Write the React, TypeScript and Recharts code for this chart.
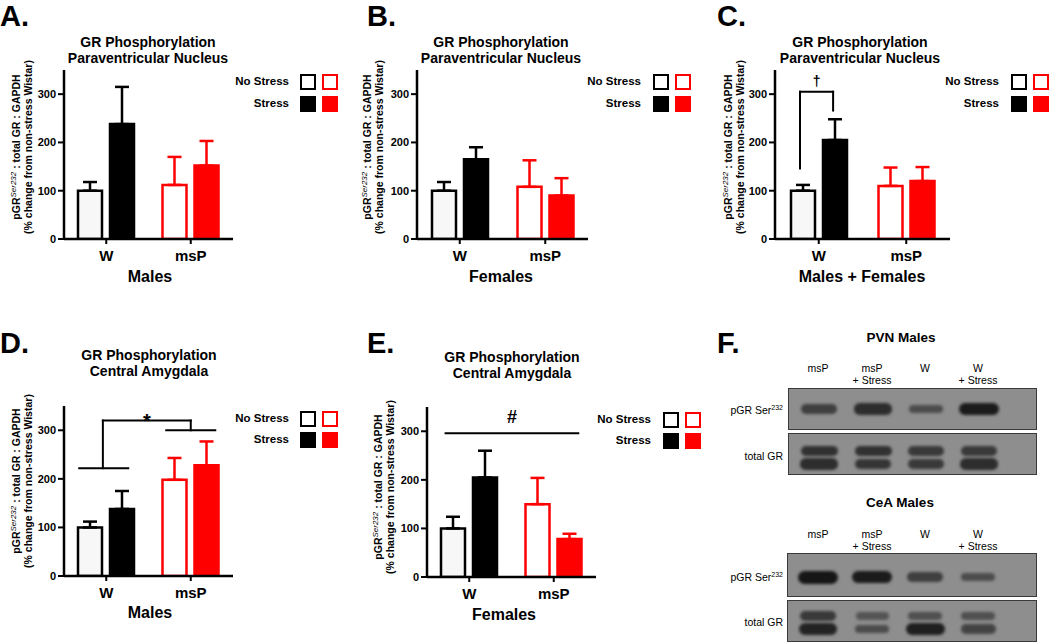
import { Bar, BarChart, Cell, ErrorBar, ReferenceLine, XAxis, YAxis } from 'recharts'

const GROUPS = ['W', 'msP']
const Y_TICKS = [0, 100, 200, 300]

// A: PVN males
const A_NO_STRESS = [100, 112]
const A_STRESS = [238, 152]
const A_NO_STRESS_SEM = [18, 58]
const A_STRESS_SEM = [77, 51]

// B: PVN females
const B_NO_STRESS = [100, 108]
const B_STRESS = [165, 90]
const B_NO_STRESS_SEM = [18, 55]
const B_STRESS_SEM = [25, 36]

// C: PVN males + females
const C_NO_STRESS = [100, 110]
const C_STRESS = [205, 120]
const C_NO_STRESS_SEM = [12, 38]
const C_STRESS_SEM = [43, 29]

// D: CeA males
const D_NO_STRESS = [100, 198]
const D_STRESS = [138, 228]
const D_NO_STRESS_SEM = [12, 45]
const D_STRESS_SEM = [37, 49]

// E: CeA females
const E_NO_STRESS = [100, 150]
const E_STRESS = [205, 78]
const E_NO_STRESS_SEM = [24, 54]
const E_STRESS_SEM = [55, 11]

// F: western blot lanes and band intensities (0..1)
const LANES = [['msP'], ['msP', '+ Stress'], ['W'], ['W', '+ Stress']]
const PVN_PGR = [0.55, 0.75, 0.4, 0.95]
const PVN_TOTAL_UPPER = [0.7, 0.7, 0.6, 0.6]
const PVN_TOTAL_LOWER = [0.75, 0.65, 0.6, 0.75]
const CEA_PGR = [1, 0.95, 0.55, 0.4]
const CEA_TOTAL_UPPER = [0.6, 0.3, 0.35, 0.35]
const CEA_TOTAL_LOWER = [0.85, 0.4, 0.9, 0.5]

const GROUP_COLORS = ['#000000', '#ff0000']
const NO_STRESS_FILL = ['#f7f7f7', '#ffffff']
const FONT = '"Liberation Sans", Arial, Helvetica, sans-serif'

// segment x is in fractions of the plot width (W spans 0..0.5, msP 0.5..1)
type Seg = { x1: number; y1: number; x2: number; y2: number; label?: string; labelSize?: number; labelOffset?: number }

function buildRows(ns: number[], s: number[], nsSem: number[], sSem: number[]) {
  return GROUPS.map((group, i) => ({
    group,
    noStress: ns[i],
    stress: s[i],
    nsErrBlack: i === 0 ? [0, nsSem[i]] : undefined,
    nsErrRed: i === 1 ? [0, nsSem[i]] : undefined,
    sErrBlack: i === 0 ? [0, sSem[i]] : undefined,
    sErrRed: i === 1 ? [0, sSem[i]] : undefined,
  }))
}

type PanelProps = {
  rows: ReturnType<typeof buildRows>
  axisX: number
  axisEnd: number
  plotTop: number
  axisY: number
  segments?: Seg[]
}

function BarPanel({ rows, axisX, axisEnd, plotTop, axisY, segments = [] }: PanelProps) {
  const left = axisX - 34
  const top = plotTop - 12
  const width = axisEnd - left + 4
  const height = axisY + 34 - top
  return (
    <div style={{ position: 'absolute', left, top }}>
      <BarChart
        width={width}
        height={height}
        data={rows}
        margin={{ top: 12, right: 4, left: 0, bottom: 0 }}
        barSize={24}
        barGap={8}
      >
        <XAxis
          dataKey="group"
          height={34}
          axisLine={{ stroke: '#000', strokeWidth: 2.5 }}
          tickLine={{ stroke: '#000', strokeWidth: 2 }}
          tickSize={5}
          tickMargin={6}
          tick={{ fill: '#000', fontSize: 15, fontWeight: 700 }}
        />
        <XAxis xAxisId="num" type="number" domain={[0, 1]} allowDataOverflow hide />
        <YAxis
          width={34}
          domain={[0, 350]}
          ticks={Y_TICKS}
          interval={0}
          allowDataOverflow
          axisLine={{ stroke: '#000', strokeWidth: 2.5 }}
          tickLine={{ stroke: '#000', strokeWidth: 2 }}
          tickSize={6}
          tickMargin={2}
          tick={{ fill: '#000', fontSize: 11, fontWeight: 700 }}
        />
        <Bar dataKey="noStress" strokeWidth={2.5} isAnimationActive={false}>
          {rows.map((r, i) => (
            <Cell key={`ns-${r.group}`} fill={NO_STRESS_FILL[i]} stroke={GROUP_COLORS[i]} />
          ))}
          <ErrorBar dataKey="nsErrBlack" width={7} strokeWidth={2.5} stroke={GROUP_COLORS[0]} isAnimationActive={false} />
          <ErrorBar dataKey="nsErrRed" width={7} strokeWidth={2.5} stroke={GROUP_COLORS[1]} isAnimationActive={false} />
        </Bar>
        <Bar dataKey="stress" strokeWidth={2.5} isAnimationActive={false}>
          {rows.map((r, i) => (
            <Cell key={`s-${r.group}`} fill={GROUP_COLORS[i]} stroke={GROUP_COLORS[i]} />
          ))}
          <ErrorBar dataKey="sErrBlack" width={7} strokeWidth={2.5} stroke={GROUP_COLORS[0]} isAnimationActive={false} />
          <ErrorBar dataKey="sErrRed" width={7} strokeWidth={2.5} stroke={GROUP_COLORS[1]} isAnimationActive={false} />
        </Bar>
        {segments.map((sg, i) => (
          <ReferenceLine
            key={`seg-${i}`}
            xAxisId="num"
            segment={[
              { x: sg.x1, y: sg.y1 },
              { x: sg.x2, y: sg.y2 },
            ]}
            stroke="#000"
            strokeWidth={2}
            strokeLinecap="square"
            ifOverflow="visible"
            label={
              sg.label
                ? {
                    value: sg.label,
                    position: 'top',
                    offset: sg.labelOffset ?? 4,
                    fill: '#000',
                    fontSize: sg.labelSize ?? 16,
                    fontWeight: 700,
                  }
                : undefined
            }
          />
        ))}
      </BarChart>
    </div>
  )
}

function Txt({ x, y, children, size = 14, weight = 700, align = 'center' }: any) {
  const tx = align === 'center' ? '-50%' : align === 'right' ? '-100%' : '0'
  return (
    <div
      style={{
        position: 'absolute',
        left: x,
        top: y,
        transform: `translate(${tx}, -50%)`,
        fontSize: size,
        fontWeight: weight,
        lineHeight: 1.15,
        whiteSpace: 'nowrap',
        textAlign: align,
      }}
    >
      {children}
    </div>
  )
}

function YLabel({ cx, cy }: { cx: number; cy: number }) {
  return (
    <div
      style={{
        position: 'absolute',
        left: cx,
        top: cy,
        width: 200,
        transform: 'translate(-50%, -50%) rotate(-90deg)',
        textAlign: 'center',
        fontSize: 10.5,
        fontWeight: 700,
        lineHeight: '12px',
        whiteSpace: 'nowrap',
      }}
    >
      <div>
        pGR<sup style={{ fontSize: 8, fontWeight: 400, fontStyle: 'italic', verticalAlign: '4px' }}>Ser232</sup> : total GR : GAPDH
      </div>
      <div>(% change from non-stress Wistar)</div>
    </div>
  )
}

function Legend({ textRight, boxX, y1, y2 }: { textRight: number; boxX: number; y1: number; y2: number }) {
  const box = (x: number, y: number, color: string, filled: boolean) => (
    <div
      style={{
        position: 'absolute',
        left: x,
        top: y - 8,
        width: 16,
        height: 16,
        boxSizing: 'border-box',
        border: `2.5px solid ${color}`,
        background: filled ? color : '#fff',
      }}
    />
  )
  return (
    <>
      <Txt x={textRight} y={y1} size={11.5} align="right">No Stress</Txt>
      <Txt x={textRight} y={y2} size={11.5} align="right">Stress</Txt>
      {box(boxX, y1, GROUP_COLORS[0], false)}
      {box(boxX + 22, y1, GROUP_COLORS[1], false)}
      {box(boxX, y2, GROUP_COLORS[0], true)}
      {box(boxX + 22, y2, GROUP_COLORS[1], true)}
    </>
  )
}

function Title({ cx, y, line2 }: { cx: number; y: number; line2: string }) {
  return (
    <>
      <Txt x={cx} y={y} size={14}>GR Phosphorylation</Txt>
      <Txt x={cx} y={y + 16} size={14}>{line2}</Txt>
    </>
  )
}

function PanelLetter({ x, y, letter }: { x: number; y: number; letter: string }) {
  return (
    <div style={{ position: 'absolute', left: x, top: y, fontSize: 29, fontWeight: 700, lineHeight: 1 }}>{letter}</div>
  )
}

const LANE_X = [30, 84, 137, 190]

function Blot({ left, top, width, height, bands }: { left: number; top: number; width: number; height: number; bands: { y: number; vals: number[] }[] }) {
  return (
    <div
      style={{
        position: 'absolute',
        left,
        top,
        width,
        height,
        boxSizing: 'border-box',
        background: '#8e8e8e',
        border: '1.5px solid #3a3a3a',
        overflow: 'hidden',
      }}
    >
      {bands.map((b, bi) =>
        b.vals.map((v, li) => {
          const w = 30 + v * 10
          const h = 6 + v * 7
          return (
            <div
              key={`${bi}-${li}`}
              style={{
                position: 'absolute',
                left: LANE_X[li] - w / 2,
                top: b.y - h / 2,
                width: w,
                height: h,
                borderRadius: h / 2,
                background: `rgba(22,22,22,${0.25 + v * 0.75})`,
                filter: 'blur(1.8px)',
              }}
            />
          )
        })
      )}
    </div>
  )
}

function LaneLabels({ y }: { y: number }) {
  return (
    <>
      {LANES.map((lines, i) => (
        <div
          key={i}
          style={{
            position: 'absolute',
            left: 788 + LANE_X[i],
            top: y,
            transform: 'translateX(-50%)',
            fontSize: 10.5,
            lineHeight: '12px',
            textAlign: 'center',
            whiteSpace: 'nowrap',
          }}
        >
          {lines.map((l) => (
            <div key={l}>{l}</div>
          ))}
        </div>
      ))}
    </>
  )
}

function BlotRowLabel({ y, kind }: { y: number; kind: 'p' | 't' }) {
  return (
    <Txt x={783} y={y} size={10.5} weight={400} align="right">
      {kind === 'p' ? (
        <>
          pGR Ser<sup style={{ fontSize: 7, verticalAlign: '4px' }}>232</sup>
        </>
      ) : (
        'total GR'
      )}
    </Txt>
  )
}

export default function App() {
  const aRows = buildRows(A_NO_STRESS, A_STRESS, A_NO_STRESS_SEM, A_STRESS_SEM)
  const bRows = buildRows(B_NO_STRESS, B_STRESS, B_NO_STRESS_SEM, B_STRESS_SEM)
  const cRows = buildRows(C_NO_STRESS, C_STRESS, C_NO_STRESS_SEM, C_STRESS_SEM)
  const dRows = buildRows(D_NO_STRESS, D_STRESS, D_NO_STRESS_SEM, D_STRESS_SEM)
  const eRows = buildRows(E_NO_STRESS, E_STRESS, E_NO_STRESS_SEM, E_STRESS_SEM)

  const cSegs: Seg[] = [
    { x1: 0.143, y1: 146, x2: 0.143, y2: 305 },
    { x1: 0.143, y1: 305, x2: 0.332, y2: 305, label: '†', labelSize: 14, labelOffset: 6 },
    { x1: 0.332, y1: 305, x2: 0.332, y2: 266 },
  ]
  const dSegs: Seg[] = [
    { x1: 0.09, y1: 222, x2: 0.38, y2: 222 },
    { x1: 0.23, y1: 222, x2: 0.23, y2: 320 },
    { x1: 0.23, y1: 320, x2: 0.75, y2: 320, label: '*', labelSize: 20, labelOffset: -7 },
    { x1: 0.75, y1: 320, x2: 0.75, y2: 300 },
    { x1: 0.605, y1: 300, x2: 0.895, y2: 300 },
  ]
  const eSegs: Seg[] = [{ x1: 0.11, y1: 296, x2: 0.895, y2: 296, label: '#', labelSize: 18, labelOffset: 10 }]

  return (
    <div
      style={{
        position: 'absolute',
        left: 0,
        top: 0,
        width: 1050,
        height: 643,
        background: '#fff',
        fontFamily: FONT,
        color: '#000',
        overflow: 'hidden',
      }}
    >
      {/* A */}
      <PanelLetter x={0} y={2} letter="A." />
      <Title cx={148} y={42} line2="Paraventricular Nucleus" />
      <YLabel cx={21} cy={147} />
      <BarPanel rows={aRows} axisX={64} axisEnd={233} plotTop={70} axisY={239} />
      <Txt x={150} y={277} size={16}>Males</Txt>
      <Legend textRight={289} boxX={300} y1={82} y2={104} />

      {/* B */}
      <PanelLetter x={367} y={2} letter="B." />
      <Title cx={501} y={42} line2="Paraventricular Nucleus" />
      <YLabel cx={372} cy={147} />
      <BarPanel rows={bRows} axisX={417} axisEnd={588} plotTop={70} axisY={239} />
      <Txt x={501} y={277} size={16}>Females</Txt>
      <Legend textRight={641} boxX={653} y1={82} y2={104} />

      {/* C */}
      <PanelLetter x={717} y={2} letter="C." />
      <Title cx={860} y={42} line2="Paraventricular Nucleus" />
      <YLabel cx={733} cy={147} />
      <BarPanel rows={cRows} axisX={775} axisEnd={950} plotTop={70} axisY={239} segments={cSegs} />
      <Txt x={862} y={277} size={16}>Males + Females</Txt>
      <Legend textRight={999} boxX={1011} y1={82} y2={104} />

      {/* D */}
      <PanelLetter x={0} y={329} letter="D." />
      <Title cx={149} y={355} line2="Central Amygdala" />
      <YLabel cx={21} cy={481} />
      <BarPanel rows={dRows} axisX={64} axisEnd={233} plotTop={406} axisY={576} segments={dSegs} />
      <Txt x={150} y={613} size={16}>Males</Txt>
      <Legend textRight={289} boxX={300} y1={419} y2={440} />

      {/* E */}
      <PanelLetter x={367} y={329} letter="E." />
      <Title cx={512} y={357} line2="Central Amygdala" />
      <YLabel cx={383} cy={487} />
      <BarPanel rows={eRows} axisX={427} axisEnd={596} plotTop={407} axisY={577} segments={eSegs} />
      <Txt x={504} y={615} size={16}>Females</Txt>
      <Legend textRight={651} boxX={663} y1={420} y2={441} />

      {/* F */}
      <PanelLetter x={717} y={329} letter="F." />
      <Txt x={901} y={338} size={13.5}>PVN Males</Txt>
      <LaneLabels y={362} />
      <BlotRowLabel y={410} kind="p" />
      <Blot left={788} top={388} width={249} height={42} bands={[{ y: 20, vals: PVN_PGR }]} />
      <BlotRowLabel y={456} kind="t" />
      <Blot
        left={788}
        top={433}
        width={249}
        height={42}
        bands={[
          { y: 17, vals: PVN_TOTAL_UPPER },
          { y: 30, vals: PVN_TOTAL_LOWER },
        ]}
      />
      <Txt x={900} y={503} size={13.5}>CeA Males</Txt>
      <LaneLabels y={528} />
      <BlotRowLabel y={577} kind="p" />
      <Blot left={787} top={553} width={250} height={44} bands={[{ y: 23, vals: CEA_PGR }]} />
      <BlotRowLabel y={622} kind="t" />
      <Blot
        left={787}
        top={600}
        width={250}
        height={42}
        bands={[
          { y: 15, vals: CEA_TOTAL_UPPER },
          { y: 28, vals: CEA_TOTAL_LOWER },
        ]}
      />
    </div>
  )
}
